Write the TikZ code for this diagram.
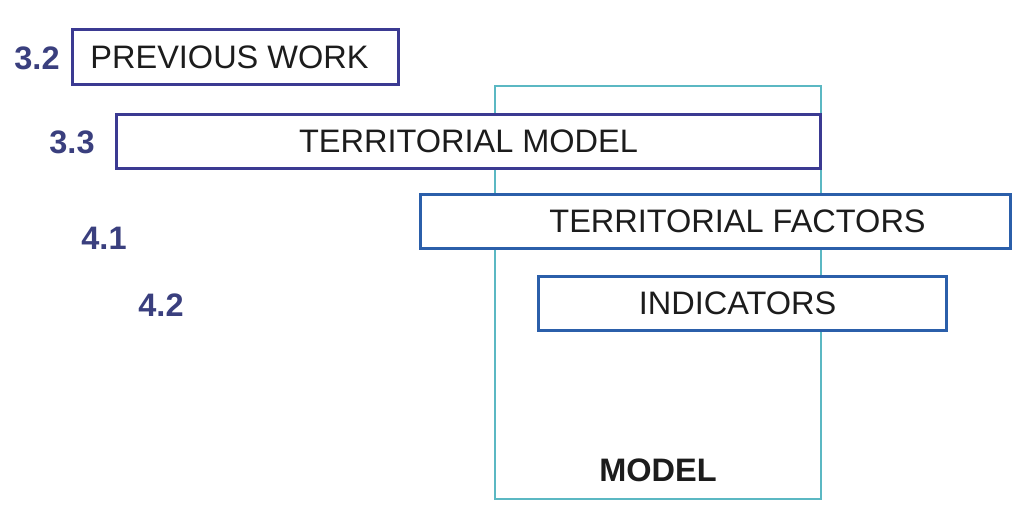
\documentclass[tikz,border=0pt]{standalone}
\usepackage{fontspec}
\setmainfont{Liberation Sans}
\usetikzlibrary{positioning}
\definecolor{navybox}{HTML}{3B3A92}
\definecolor{bluebox}{HTML}{2B5FAA}
\definecolor{tealbox}{HTML}{5BB8C3}
\definecolor{numcol}{HTML}{3A3F7E}
\definecolor{txtcol}{HTML}{1C1C1C}

\begin{document}
\begin{tikzpicture}[x=1pt, y=-1pt,
    sectbox/.style={draw=navybox, line width=3pt, fill=white, text=txtcol, inner sep=0pt,
        minimum height=54pt, font=\fontsize{32.5}{39}\selectfont},
    subbox/.style={sectbox, draw=bluebox},
    secnum/.style={text=numcol, inner sep=0pt, font=\fontsize{32.5}{39}\selectfont\bfseries}]
    \useasboundingbox (0,0) rectangle (1015,505);
    % Model frame behind the boxes
    \node[draw=tealbox, line width=2.8pt, minimum width=326pt, minimum height=413pt, inner sep=0pt] (model) at (658,292.5) {};
    \node[text=txtcol, font=\fontsize{32.5}{39}\selectfont\bfseries] (modeltxt) at (658,470) {MODEL};
    % Sections
    \node[sectbox, minimum width=326pt, minimum height=55pt] (prev) at (235.5,57) {PREVIOUS WORK\hspace*{12pt}};
    \node[sectbox, minimum width=704pt] (terrmodel) at (468.5,141.5) {TERRITORIAL MODEL};
    \node[subbox, minimum width=590pt] (factors) at (715.5,221.5) {\hspace*{44pt}TERRITORIAL FACTORS};
    \node[subbox, minimum width=408pt] (indic) at (742.5,303.5) {INDICATORS\hspace*{10pt}};
    % Section numbers
    \node[secnum] (n32) at (37,58) {3.2};
    \node[secnum] (n33) at (72,142) {3.3};
    \node[secnum] (n41) at (104,238) {4.1};
    \node[secnum] (n42) at (161,305) {4.2};
\end{tikzpicture}
\end{document}
